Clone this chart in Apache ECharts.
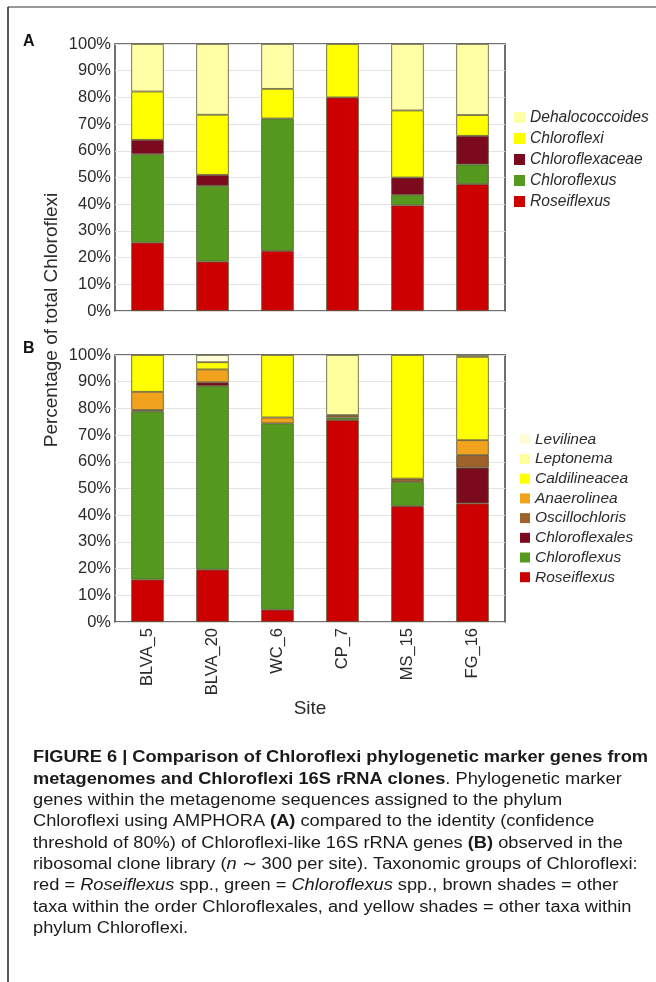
<!DOCTYPE html>
<html>
<head>
<meta charset="utf-8">
<script src="https://cdn.jsdelivr.net/npm/echarts@6/dist/echarts.min.js"></script>
<style>
  html, body { margin: 0; padding: 0; background: #fff; }
  #chart { width: 656px; height: 982px; }
</style>
</head>
<body>
<div id="chart"></div>
<script>
// Sites sampled
const sites = ['BLVA_5', 'BLVA_20', 'WC_6', 'CP_7', 'MS_15', 'FG_16'];
const percentTicks = [0, 10, 20, 30, 40, 50, 60, 70, 80, 90, 100];

// Panel A: AMPHORA phylogenetic marker genes (% of total Chloroflexi)
const roseiflexusA      = [25.6, 18.5, 22.5, 80.0, 39.6, 47.5];
const chloroflexusA     = [33.1, 28.4, 49.6, 0,    3.9,  7.4];
const chloroflexaceaeA  = [5.4,  4.1,  0,    0,    6.5,  10.7];
const chloroflexiA      = [18.1, 22.5, 11.1, 20.0, 25.1, 7.8];
const dehalococcoidesA  = [17.8, 26.5, 16.8, 0,    24.9, 26.6];

// Panel B: 16S rRNA clone library (% of total Chloroflexi)
const roseiflexusB     = [15.9, 19.6, 4.6,  75.6, 43.4, 44.4];
const chloroflexusB    = [63.0, 68.8, 69.8, 1.0,  9.1,  0];
const chloroflexalesB  = [0,    1.4,  0,    0,    0,    13.4];
const oscillochlorisB  = [0.5,  0,    0,    0.9,  1.2,  4.7];
const anaerolineaB     = [6.8,  4.8,  2.2,  0,    0,    5.6];
const caldilineaceaB   = [13.8, 2.7,  23.4, 0,    46.3, 31.2];
const leptonemaB       = [0,    0,    0,    22.5, 0,    0];
const levilineaB       = [0,    2.7,  0,    0,    0,    0.7];

const FONT = '"Liberation Sans", Arial, Helvetica, sans-serif';
const COLORS = {
  Roseiflexus: '#cc0000',
  Chloroflexus: '#559a1e',
  Chloroflexaceae: '#7c0a1f',
  Chloroflexales: '#7c0a1f',
  Oscillochloris: '#a0622b',
  Anaerolinea: '#f2a31e',
  Chloroflexi: '#ffff00',
  Caldilineacea: '#ffff00',
  Dehalococcoides: '#ffffa6',
  Leptonema: '#ffff9e',
  Levilinea: '#fffbd6'
};

const panelA = [
  ['Roseiflexus', roseiflexusA],
  ['Chloroflexus', chloroflexusA],
  ['Chloroflexaceae', chloroflexaceaeA],
  ['Chloroflexi', chloroflexiA],
  ['Dehalococcoides', dehalococcoidesA]
];
const panelB = [
  ['Roseiflexus', roseiflexusB],
  ['Chloroflexus', chloroflexusB],
  ['Chloroflexales', chloroflexalesB],
  ['Oscillochloris', oscillochlorisB],
  ['Anaerolinea', anaerolineaB],
  ['Caldilineacea', caldilineaceaB],
  ['Leptonema', leptonemaB],
  ['Levilinea', levilineaB]
];

function makeSeries(list, idx) {
  return list.map(([name, vals]) => ({
    name: name,
    type: 'bar',
    stack: 'panel' + idx,
    xAxisIndex: idx,
    yAxisIndex: idx,
    barWidth: '50%',
    data: vals.map(v => (v > 0 ? v : '-')),
    itemStyle: { color: COLORS[name], borderColor: '#5a5535', borderWidth: 0.8 },
    emphasis: { disabled: true }
  }));
}

function yAxisFor(idx) {
  return {
    type: 'value', gridIndex: idx, min: 0, max: 100, interval: 10,
    axisLine: { show: false }, axisTick: { show: false },
    axisLabel: { formatter: '{value}%', fontFamily: FONT, fontSize: 16.5, color: '#2a2a2a', margin: 4 },
    splitLine: { show: true, lineStyle: { color: '#e4e4e4', width: 1 } }
  };
}

// Caption lines (rich text)
const captionLines = [
  '{b|FIGURE 6 | Comparison of Chloroflexi phylogenetic marker genes from}',
  '{b|metagenomes and Chloroflexi 16S rRNA clones}. Phylogenetic marker',
  'genes within the metagenome sequences assigned to the phylum',
  'Chloroflexi using AMPHORA {b|(A)} compared to the identity (confidence',
  'threshold of 80%) of Chloroflexi-like 16S rRNA genes {b|(B)} observed in the',
  'ribosomal clone library ({i|n} \u223C 300 per site). Taxonomic groups of Chloroflexi:',
  'red = {i|Roseiflexus} spp., green = {i|Chloroflexus} spp., brown shades = other',
  'taxa within the order Chloroflexales, and yellow shades = other taxa within',
  'phylum Chloroflexi.'
];
const CAP_SIZE = 16;
const ctx = document.createElement('canvas').getContext('2d');
ctx.font = 'bold ' + CAP_SIZE + 'px ' + FONT;
const line1Width = ctx.measureText('FIGURE 6 | Comparison of Chloroflexi phylogenetic marker genes from').width;
const capScale = 615 / line1Width;

const captionGroup = {
  type: 'group', x: 33, y: 0, scaleX: capScale, silent: true,
  children: captionLines.map((t, i) => ({
    type: 'text', x: 0, y: 758 + i * 21.3,
    style: {
      text: t, fontFamily: FONT, fontSize: CAP_SIZE, fill: '#1a1a1a',
      verticalAlign: 'middle', align: 'left',
      rich: {
        b: { fontWeight: 'bold', fontFamily: FONT, fontSize: CAP_SIZE, fill: '#1a1a1a' },
        i: { fontStyle: 'italic', fontFamily: FONT, fontSize: CAP_SIZE, fill: '#1a1a1a' }
      }
    }
  }))
};

const legendCommon = {
  orient: 'vertical', icon: 'rect', selectedMode: false, padding: 0,
  itemStyle: { borderWidth: 0 },
  textStyle: { fontFamily: FONT, fontStyle: 'italic', color: '#2a2a2a' }
};

const option = {
  backgroundColor: '#ffffff',
  animation: false,
  grid: [
    { left: 115, top: 44, width: 390, height: 267, show: true, borderColor: '#404040', borderWidth: 1.5, backgroundColor: 'transparent' },
    { left: 115, top: 355, width: 390, height: 267, show: true, borderColor: '#404040', borderWidth: 1.5, backgroundColor: 'transparent' }
  ],
  xAxis: [
    { type: 'category', gridIndex: 0, data: sites, axisLabel: { show: false }, axisTick: { show: false }, axisLine: { show: false } },
    { type: 'category', gridIndex: 1, data: sites, axisTick: { show: false }, axisLine: { show: false },
      axisLabel: { rotate: 90, fontFamily: FONT, fontSize: 16.5, color: '#2a2a2a', margin: 6 },
      name: 'Site', nameLocation: 'middle', nameGap: 71,
      nameTextStyle: { fontFamily: FONT, fontSize: 19, color: '#2a2a2a' } }
  ],
  yAxis: [yAxisFor(0), yAxisFor(1)],
  legend: [
    Object.assign({}, legendCommon, {
      left: 514, top: 109, itemWidth: 11, itemHeight: 11, itemGap: 4,
      textStyle: Object.assign({}, legendCommon.textStyle, { fontSize: 15.6, lineHeight: 17 }),
      data: ['Dehalococcoides', 'Chloroflexi', 'Chloroflexaceae', 'Chloroflexus', 'Roseiflexus']
    }),
    Object.assign({}, legendCommon, {
      left: 520, top: 431, itemWidth: 10, itemHeight: 10, itemGap: 3.1,
      textStyle: Object.assign({}, legendCommon.textStyle, { fontSize: 15.5, lineHeight: 16.6 }),
      data: ['Levilinea', 'Leptonema', 'Caldilineacea', 'Anaerolinea', 'Oscillochloris', 'Chloroflexales', 'Chloroflexus', 'Roseiflexus']
    })
  ],
  graphic: [
    { type: 'line', shape: { x1: 8, y1: 7, x2: 656, y2: 7 }, style: { stroke: '#777', lineWidth: 1.5 }, silent: true },
    { type: 'line', shape: { x1: 8, y1: 7, x2: 8, y2: 982 }, style: { stroke: '#222', lineWidth: 1.5 }, silent: true },
    { type: 'text', x: 23, y: 42, style: { text: 'A', fontFamily: FONT, fontWeight: 'bold', fontSize: 16, fill: '#111', verticalAlign: 'middle' }, silent: true },
    { type: 'text', x: 23, y: 349, style: { text: 'B', fontFamily: FONT, fontWeight: 'bold', fontSize: 16, fill: '#111', verticalAlign: 'middle' }, silent: true },
    { type: 'text', x: 52, y: 320, rotation: Math.PI / 2,
      style: { text: 'Percentage of total Chloroflexi', fontFamily: FONT, fontSize: 19, fill: '#2a2a2a', align: 'center', verticalAlign: 'middle' }, silent: true },
    captionGroup
  ],
  series: makeSeries(panelA, 0).concat(makeSeries(panelB, 1))
};

const chart = echarts.init(document.getElementById('chart'), null, { renderer: 'canvas' });
chart.setOption(option);
</script>
</body>
</html>
